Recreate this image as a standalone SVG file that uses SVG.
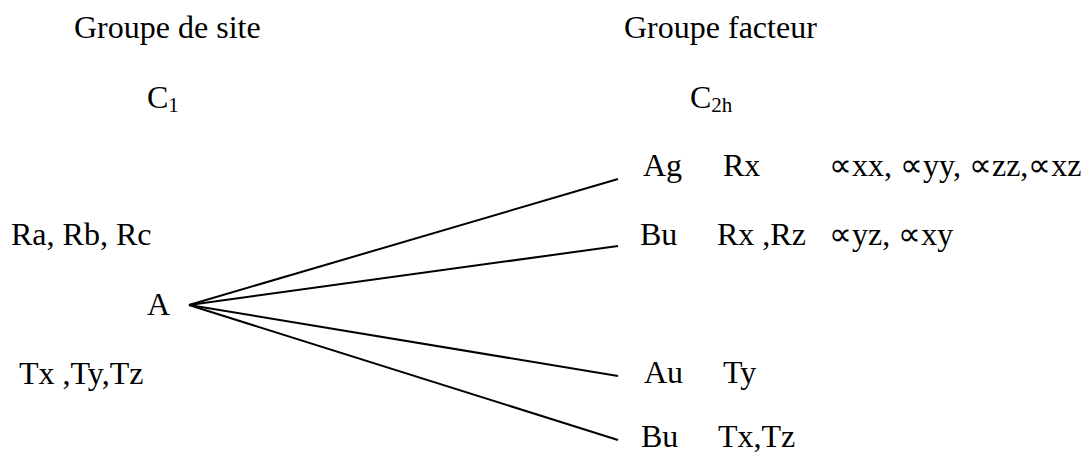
<svg xmlns="http://www.w3.org/2000/svg" width="1083" height="458" viewBox="0 0 1083 458">
<style>
text{font-family:"Liberation Serif","Times New Roman",serif;font-size:32px;fill:#000}
.sub{font-size:21px}
.c{stroke:#000;stroke-width:2;fill:none}
</style>
<rect width="1083" height="458" fill="#fff"/>
<g id="site-header"><text x="74" y="38">Groupe de site</text></g>
<g id="factor-header"><text x="624" y="38">Groupe facteur</text></g>
<g id="c1"><text x="147" y="108">C<tspan class="sub" dy="4">1</tspan></text></g>
<g id="c2h"><text x="690" y="108">C<tspan class="sub" dy="4">2h</tspan></text></g>
<g id="rot-site"><text x="11" y="245">Ra, Rb, Rc</text></g>
<g id="node-a"><text x="147" y="315">A</text></g>
<g id="trans-site"><text x="19" y="384">Tx ,Ty,Tz</text></g>
<g id="ag"><text x="643" y="176">Ag</text><text x="723" y="176">Rx</text><text x="829" y="176">∝xx, ∝yy, ∝zz,∝xz</text></g>
<g id="bu1"><text x="640" y="245">Bu</text><text x="717" y="245">Rx ,Rz</text><text x="829" y="245">∝yz, ∝xy</text></g>
<g id="au"><text x="644" y="383">Au</text><text x="723" y="383">Ty</text></g>
<g id="bu2"><text x="641" y="447">Bu</text><text x="718" y="447">Tx,Tz</text></g>
<g id="connectors">
<line class="c" x1="189" y1="305" x2="618" y2="179"/>
<line class="c" x1="189" y1="305" x2="618" y2="246"/>
<line class="c" x1="189" y1="305" x2="618" y2="376"/>
<line class="c" x1="189" y1="305" x2="618" y2="440"/>
</g>
</svg>
